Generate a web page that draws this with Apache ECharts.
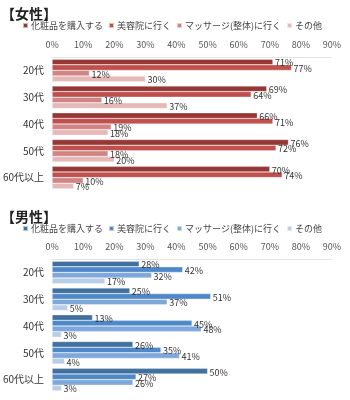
<!DOCTYPE html>
<html><head><meta charset="utf-8">
<script src="https://cdn.jsdelivr.net/npm/echarts@6/dist/echarts.min.js"></script>
<style>html,body{margin:0;padding:0;background:#fff}#c{width:350px;height:400px}</style>
</head><body><div id="c"></div>
<script>
const categories = ['20代','30代','40代','50代','60代以上'];
const seriesNames = ['化粧品を購入する','美容院に行く','マッサージ(整体)に行く','その他'];
const female_cosme = [71,69,66,76,70];
const female_salon = [77,64,71,72,74];
const female_massage = [12,16,19,18,10];
const female_other = [30,37,18,20,7];
const male_cosme = [28,25,13,26,50];
const male_salon = [42,51,45,35,27];
const male_massage = [32,37,48,41,26];
const male_other = [17,5,3,4,3];
const xTicks = [0,10,20,30,40,50,60,70,80,90];

const FONT = '"Noto Sans CJK JP", sans-serif';
const femaleColors = ['#953735','#C0504D','#D08584','#E6B9B8'];
const maleColors = ['#41709F','#4F88C8','#7FA8DA','#B9CDE6'];
const femaleData = [female_cosme, female_salon, female_massage, female_other];
const maleData = [male_cosme, male_salon, male_massage, male_other];

const chart = echarts.init(document.getElementById('c'));
function xAx(gi){
  return {gridIndex:gi, type:'value', position:'top', min:xTicks[0], max:xTicks[xTicks.length-1], interval:10,
    axisLabel:{formatter:'{value}%', fontSize:9, color:'#555', fontFamily:FONT, margin:8},
    axisLine:{show:true, lineStyle:{color:'#e4e4e4'}}, axisTick:{show:false}, splitLine:{show:false}};
}
function yAx(gi){
  return {gridIndex:gi, type:'category', data:categories, inverse:true,
    axisLabel:{fontSize:10, color:'#333', fontFamily:FONT, margin:8},
    axisLine:{show:false}, axisTick:{show:false}};
}
const series = [];
function addSeries(dataArr, colors, gi){
  dataArr.forEach((d,i)=>{
    series.push({type:'bar', name:seriesNames[i], xAxisIndex:gi, yAxisIndex:gi, data:d,
      barGap:'0%', barCategoryGap:'16%',
      itemStyle:{color:colors[i], borderColor:'rgba(255,255,255,0.6)', borderWidth:0.5},
      label:{show:true, position:'right', distance:2, formatter:'{c}%', fontSize:9, color:'#333', fontFamily:FONT, offset:[0,1]},
      emphasis:{disabled:true}, animation:false});
  });
}
addSeries(femaleData, femaleColors, 0);
addSeries(maleData, maleColors, 1);

chart.setOption({
  animation:false,
  title:[
    {text:'【女性】', left:-4, top:2, textStyle:{fontSize:14, fontWeight:'bold', color:'#222', fontFamily:FONT}},
    {text:'【男性】', left:-4, top:205, textStyle:{fontSize:14, fontWeight:'bold', color:'#222', fontFamily:FONT}}
  ],
  legend:[
    {top:16, left:17, itemWidth:5, itemHeight:5, itemGap:5, icon:'rect',
     textStyle:{fontSize:9, color:'#444', fontFamily:FONT, padding:[0,0,0,-2]},
     data:seriesNames.map((n,i)=>({name:n, itemStyle:{color:femaleColors[i]}})), selectedMode:false},
    {top:219, left:17, itemWidth:5, itemHeight:5, itemGap:5, icon:'rect',
     textStyle:{fontSize:9, color:'#444', fontFamily:FONT, padding:[0,0,0,-2]},
     data:seriesNames.map((n,i)=>({name:n, itemStyle:{color:maleColors[i]}})), selectedMode:false}
  ],
  grid:[
    {left:48, right:18, top:57, height:134},
    {left:48, right:18, top:259, height:134}
  ],
  xAxis:[xAx(0), xAx(1)],
  yAxis:[yAx(0), yAx(1)],
  series:series
});
</script></body></html>
